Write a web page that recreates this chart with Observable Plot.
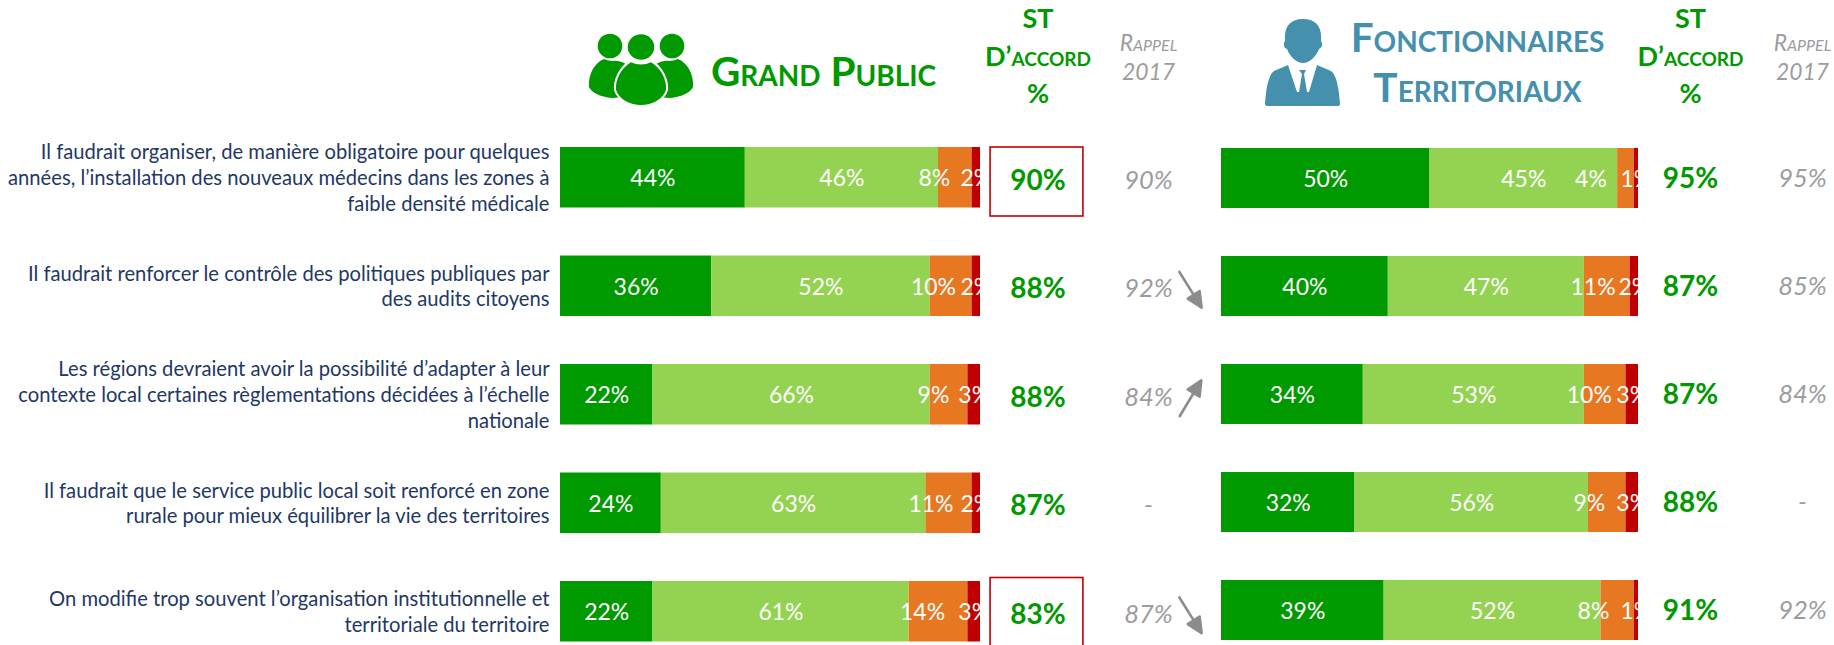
<!DOCTYPE html>
<html lang="fr"><head><meta charset="utf-8">
<script src="https://cdn.jsdelivr.net/npm/d3@7"></script>
<script src="https://cdn.jsdelivr.net/npm/@observablehq/plot@0.6"></script>
<style>
html,body{margin:0;padding:0;background:#fff;overflow:hidden}
#chart{display:flex;width:1834px;height:645px}
#chart svg{display:block;flex:none}
</style></head><body><div id="chart"></div>
<script>
// ---- data ----
const questions = [
  "Il faudrait organiser, de manière obligatoire pour quelques\nannées, l’installation des nouveaux médecins dans les zones à\nfaible densité médicale",
  "Il faudrait renforcer le contrôle des politiques publiques par\ndes audits citoyens",
  "Les régions devraient avoir la possibilité d’adapter à leur\ncontexte local certaines règlementations décidées à l’échelle\nnationale",
  "Il faudrait que le service public local soit renforcé en zone\nrurale pour mieux équilibrer la vie des territoires",
  "On modifie trop souvent l’organisation institutionnelle et\nterritoriale du territoire"
];
const categories = ["Tout à fait d’accord","Plutôt d’accord","Plutôt pas d’accord","Pas du tout d’accord"];
const colors = ["#009900","#94d352","#e87722","#c00000"];
const publicValues = [[44,46,8,2],[36,52,10,2],[22,66,9,3],[24,63,11,2],[22,61,14,3]];
const agentValues  = [[50,45,4,1],[40,47,11,2],[34,53,10,3],[32,56,9,3],[39,52,8,1]];
const publicAgree = [90,88,88,87,83];
const agentAgree  = [95,87,87,88,91];
const publicRecall = [90,92,84,null,87];
const agentRecall  = [95,85,84,null,92];
const publicTrend = [null,"down","up",null,"down"];
// label nudges, in percentage points, where the source slides a label off its segment
const publicNudge = [-5,-4.2,-3.7,-4.3,-3.8];
const agentNudge  = [-8.4,-3.4,-3.8,-4.3,-5.8];

// ---- helpers ----
const FONT = "Lato, Carlito, Calibri, sans-serif";
const GREEN = "#009900", GREY = "#9c9c9e", NAVY = "#1f3864", BLUE = "#4590ad";
const pct = v => v + "%";

function tidy(values, nudge){
  const out = [];
  values.forEach((row,i)=>{
    let acc = 0;
    row.forEach((v,j)=>{
      out.push({q:questions[i],cat:categories[j],value:v,
        pos: acc + v/2 + (j===2 ? nudge[i] : 0)});
      acc += v;
    });
  });
  return out;
}
function table(agree, recall, trend){
  return questions.map((q,i)=>({q,agree:agree[i],recall:recall[i],trend:trend?trend[i]:null}));
}
const arrowShape = {
  draw(c,l){
    c.moveTo(0,0); c.lineTo(0,-l+12);
    c.moveTo(0,-l); c.lineTo(-7,-l+15); c.lineTo(7,-l+15); c.closePath();
  }
};
function groupIcon(){
  const g = d3.create("svg:g").attr("fill","#009900");
  const side = "M604 59Q608 61 613 61Q618 60 626 64L626 97L612 98C600 97 591 92 589 87C588 75 594 63 604 59Z";
  g.append("circle").attr("cx",610).attr("cy",46).attr("r",12.3);
  g.append("circle").attr("cx",672).attr("cy",46).attr("r",12.3);
  g.append("path").attr("d",side);
  g.append("path").attr("d",side).attr("transform","translate(1282,0) scale(-1,1)");
  g.append("ellipse").attr("cx",641).attr("cy",47).attr("rx",14).attr("ry",13.5).attr("stroke","#fff").attr("stroke-width",1.5);
  g.append("path").attr("d","M631 61Q641 66 651 61C662 67 668 80 667 90C664 100 652 106 641 106C630 106 618 100 615 90C614 80 620 67 631 61Z")
    .attr("stroke","#fff").attr("stroke-width",2);
  return g.node();
}
function personIcon(){
  const g = d3.create("svg:g").attr("fill",BLUE).attr("transform","translate(-1210,0)");
  g.append("path").attr("d","M1303 19C1315 19 1321 26 1321 36L1321 41Q1323 43 1322 46Q1320 49 1319 49C1316 57 1309 63 1303 63C1297 63 1290 57 1287 49Q1285 49 1284 46Q1283 43 1285 41L1285 36C1285 26 1291 19 1303 19Z");
  g.append("path").attr("d","M1288 65L1297 92L1299 92L1302 74L1299 70L1306 70L1304 74L1307 92L1309 92L1317 65L1331 71C1337 75 1339 90 1340 104Q1340 106 1337 106L1268 106Q1265 106 1265 104C1266 90 1268 75 1274 71Z");
  return g.node();
}
const header = (text, dx, dy, opts) => Plot.text([text],{frameAnchor:"top-left",textAnchor:"middle",lineAnchor:"middle",dx,dy,text:d=>d,...opts});

function panel(o){
  const rows = table(o.agree,o.recall,o.trend);
  return Plot.plot({
    width:o.width, height:645,
    marginLeft:o.marginLeft, marginRight:o.marginRight,
    marginTop:o.top, marginBottom:o.bottom,
    style:{fontFamily:FONT,background:"transparent",overflow:"hidden"},
    x:{domain:[0,100],axis:null},
    y:{domain:questions,axis:null,paddingInner:o.pad,paddingOuter:0,round:false},
    color:{domain:categories,range:colors},
    marks:[
      Plot.barX(tidy(o.values,o.nudge),{x:"value",y:"q",fill:"cat",order:null}),
      Plot.text(tidy(o.values,o.nudge),{x:"pos",y:"q",text:d=>pct(d.value),fill:"#fff",fontSize:o.barFont,dy:1,clip:true}),
      ...o.extra(rows)
    ]
  });
}

const chart = document.getElementById("chart");
chart.append(panel({
  width:1210, marginLeft:560, marginRight:230, top:147, bottom:3.5, pad:0.4424, barFont:23,
  values:publicValues, nudge:publicNudge, agree:publicAgree, recall:publicRecall, trend:publicTrend,
  extra:rows=>[
    Plot.text(rows,{x:0,y:"q",text:"q",textAnchor:"end",dx:-11,dy:-1,fill:NAVY,fontSize:20.2,lineHeight:1.27}),
    Plot.barX(rows.slice(0,1),{x1:()=>102.4,x2:()=>124.5,y:"q",fill:"none",stroke:"#c00000",strokeWidth:1.6,insetTop:0,insetBottom:-8.5}),
    Plot.barX(rows.slice(4),{x1:()=>102.4,x2:()=>124.5,y:"q",fill:"none",stroke:"#c00000",strokeWidth:1.6,insetTop:-3.5,insetBottom:-6.5}),
    Plot.text(rows,{x:100,y:"q",text:d=>pct(d.agree),dx:57.5,dy:3,fill:GREEN,fontWeight:700,fontSize:28}),
    Plot.text(rows,{x:100,y:"q",text:d=>d.recall==null?"-":pct(d.recall),dx:168,dy:3,fill:GREY,fontStyle:"italic",fontSize:25.5}),
    Plot.vector(rows.filter(d=>d.trend),{x:100,y:"q",dx:210,dy:3.5,length:42,rotate:d=>d.trend==="up"?31:148,
      shape:arrowShape,stroke:"#8a8c8e",fill:"#8a8c8e",strokeWidth:2.6}),
    groupIcon,
    header("Grand Public",263,-74,{fill:GREEN,fontWeight:700,fontSize:40.5,fontVariant:"small-caps"}),
    header("ST\nD’accord\n%",477.5,-94,{fill:GREEN,fontWeight:700,fontSize:27,lineHeight:1.39,fontVariant:"small-caps"}),
    header("Rappel\n2017",588,-91,{fill:GREY,fontStyle:"italic",fontSize:22.8,lineHeight:1.27,fontVariant:"small-caps"})
  ]
}));
chart.append(panel({
  width:624, marginLeft:11, marginRight:196, top:148, bottom:5, pad:0.4444, barFont:23,
  values:agentValues, nudge:agentNudge, agree:agentAgree, recall:agentRecall,
  extra:rows=>[
    Plot.text(rows,{x:100,y:"q",text:d=>pct(d.agree),dx:52,dy:1,fill:GREEN,fontWeight:700,fontSize:28}),
    Plot.text(rows,{x:100,y:"q",text:d=>d.recall==null?"-":pct(d.recall),dx:164,fill:GREY,fontStyle:"italic",fontSize:25.5}),
    personIcon,
    header("Fonctionnaires\nTerritoriaux",256,-87.5,{fill:BLUE,fontWeight:700,fontSize:40.5,lineHeight:1.24,fontVariant:"small-caps"}),
    header("ST\nD’accord\n%",469,-95,{fill:GREEN,fontWeight:700,fontSize:27,lineHeight:1.39,fontVariant:"small-caps"}),
    header("Rappel\n2017",581,-92,{fill:GREY,fontStyle:"italic",fontSize:22.8,lineHeight:1.27,fontVariant:"small-caps"})
  ]
}));
</script></body></html>
